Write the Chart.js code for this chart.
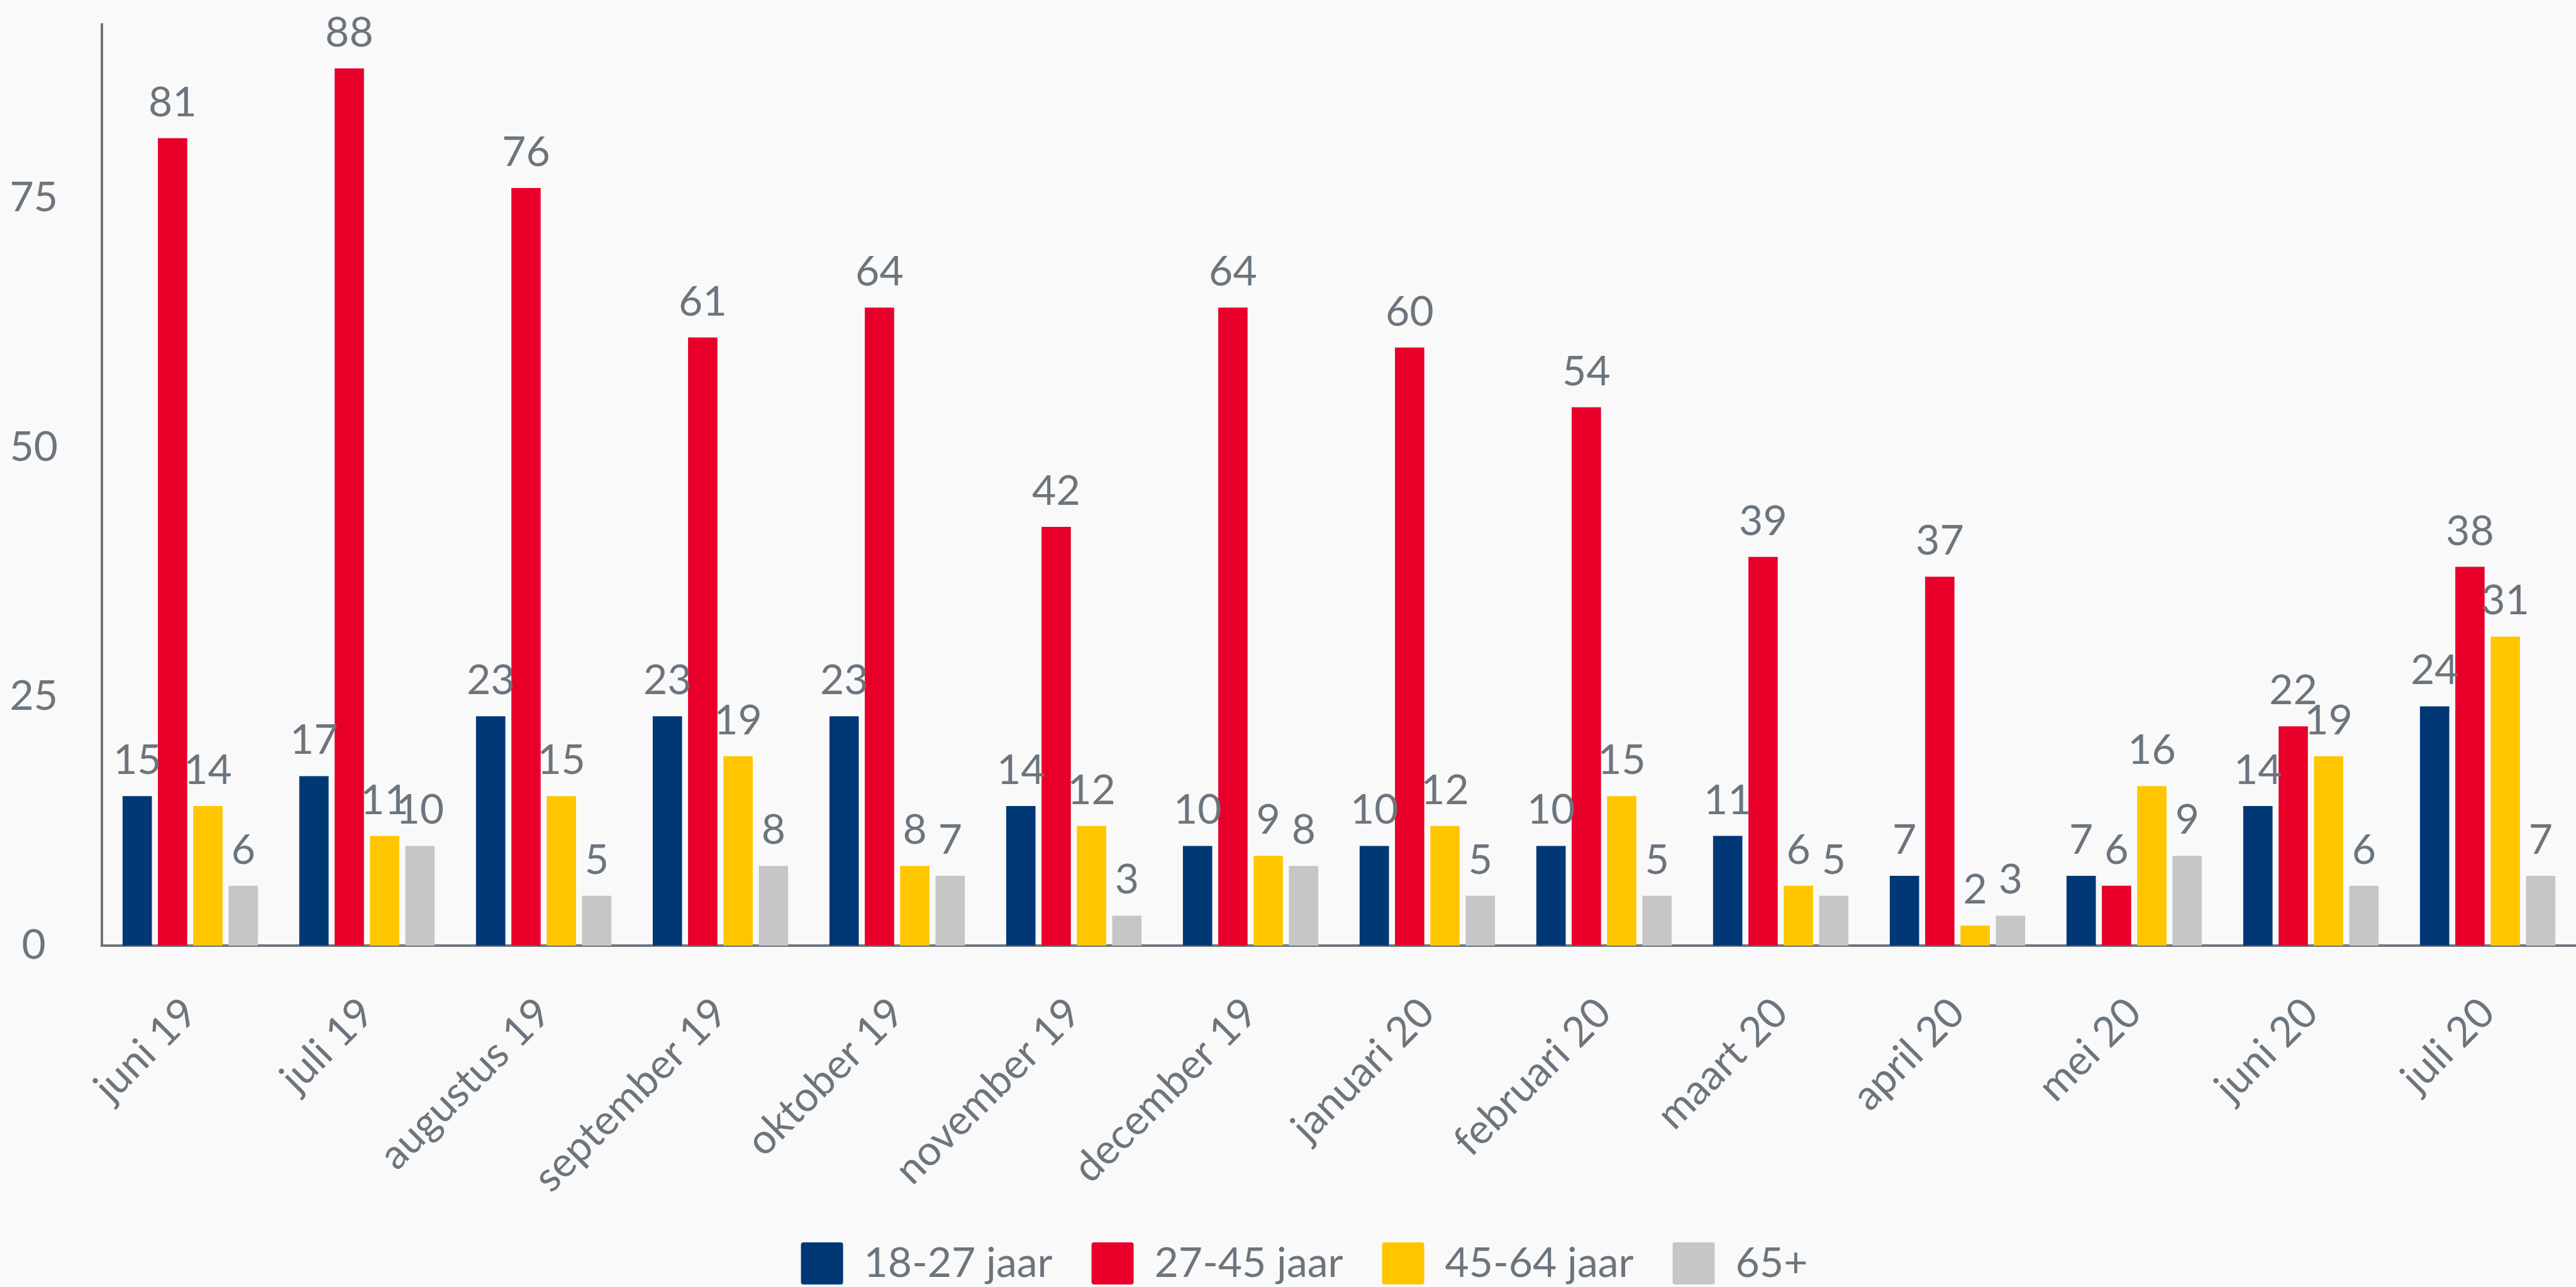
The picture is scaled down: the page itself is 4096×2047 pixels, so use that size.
<!DOCTYPE html>
<html lang="nl">
<head>
<meta charset="utf-8">
<title>Leeftijdsgroepen per maand</title>
<script src="https://cdn.jsdelivr.net/npm/chart.js@4.4.1/dist/chart.umd.min.js"></script>
<style>
  html, body { margin: 0; padding: 0; background: #f9f9f9; }
  #wrap { width: 4096px; height: 2047px; }
</style>
</head>
<body>
<div id="wrap"><canvas id="chart"></canvas></div>
<script>
// Months on the x axis
const months = ['juni 19', 'juli 19', 'augustus 19', 'september 19', 'oktober 19', 'november 19',
    'december 19', 'januari 20', 'februari 20', 'maart 20', 'april 20', 'mei 20', 'juni 20', 'juli 20'];

// Values per age group
const age18to27 = [15, 17, 23, 23, 23, 14, 10, 10, 10, 11, 7, 7, 14, 24];
const age27to45 = [81, 88, 76, 61, 64, 42, 64, 60, 54, 39, 37, 6, 22, 38];
const age45to64 = [14, 11, 15, 19, 8, 12, 9, 12, 15, 6, 2, 16, 19, 31];
const age65plus = [6, 10, 5, 8, 7, 3, 8, 5, 5, 5, 3, 9, 6, 7];

const seriesNames = ['18-27 jaar', '27-45 jaar', '45-64 jaar', '65+'];
const yTicks = [0, 25, 50, 75];

const textGrey = '#6c757d';
const colors = ['#003876', '#e8002a', '#ffc600', '#c6c6c6'];

Chart.defaults.font.family = 'Lato';

// Paint the page colour behind the chart
const background = {
    id: 'background',
    beforeDraw(chart) {
        const ctx = chart.ctx;
        ctx.save();
        ctx.fillStyle = '#f9f9f9';
        ctx.fillRect(0, 0, chart.width, chart.height);
        ctx.restore();
    }
};

// Legend in the original sits a little right of centre
const legendShift = {
    id: 'legendShift',
    afterLayout(chart) {
        if (chart.legend) {
            chart.legend.left += 26;
            chart.legend.right += 26;
        }
    }
};

// Value above every bar
const valueLabels = {
    id: 'valueLabels',
    afterDatasetsDraw(chart) {
        const ctx = chart.ctx;
        ctx.save();
        ctx.font = '66px Lato';
        ctx.fillStyle = textGrey;
        ctx.textAlign = 'center';
        ctx.textBaseline = 'alphabetic';
        chart.data.datasets.forEach((ds, i) => {
            chart.getDatasetMeta(i).data.forEach((bar, j) => {
                ctx.fillText(ds.data[j], bar.x, bar.y - 35);
            });
        });
        ctx.restore();
    }
};

const allSeries = [age18to27, age27to45, age45to64, age65plus];

new Chart(document.getElementById('chart'), {
    type: 'bar',
    data: {
        labels: months,
        datasets: allSeries.map((values, i) => ({
            label: seriesNames[i],
            data: values,
            backgroundColor: colors[i],
            borderWidth: 0,
            categoryPercentage: 0.8,
            barPercentage: 0.83
        }))
    },
    options: {
        responsive: true,
        maintainAspectRatio: false,
        animation: false,
        layout: { padding: { top: 39, left: 0, right: 0, bottom: -6 } },
        scales: {
            x: {
                grid: { display: false, drawTicks: false },
                border: { display: true, color: textGrey, width: 4 },
                ticks: {
                    minRotation: 45,
                    maxRotation: 45,
                    autoSkip: false,
                    padding: 68,
                    color: textGrey,
                    font: { size: 66 }
                },
                afterFit: scale => { scale.height = 410; }
            },
            y: {
                min: 0,
                max: 92.4,
                afterBuildTicks: scale => { scale.ticks = yTicks.map(v => ({ value: v })); },
                afterFit: scale => {
                    scale.width = 162;
                    // the wide label padding should not push the plot down
                    scale.paddingTop = 0;
                    scale.paddingBottom = 0;
                },
                grid: { display: false, drawTicks: false },
                border: { display: true, color: textGrey, width: 4 },
                ticks: {
                    crossAlign: 'center',
                    padding: 70,
                    color: textGrey,
                    font: { size: 66 }
                }
            }
        },
        plugins: {
            tooltip: { enabled: false },
            legend: {
                position: 'bottom',
                labels: {
                    boxWidth: 67,
                    boxHeight: 67,
                    padding: 62,
                    color: textGrey,
                    font: { size: 66 },
                    useBorderRadius: true,
                    borderRadius: 4
                }
            }
        }
    },
    plugins: [background, legendShift, valueLabels]
});
</script>
</body>
</html>
